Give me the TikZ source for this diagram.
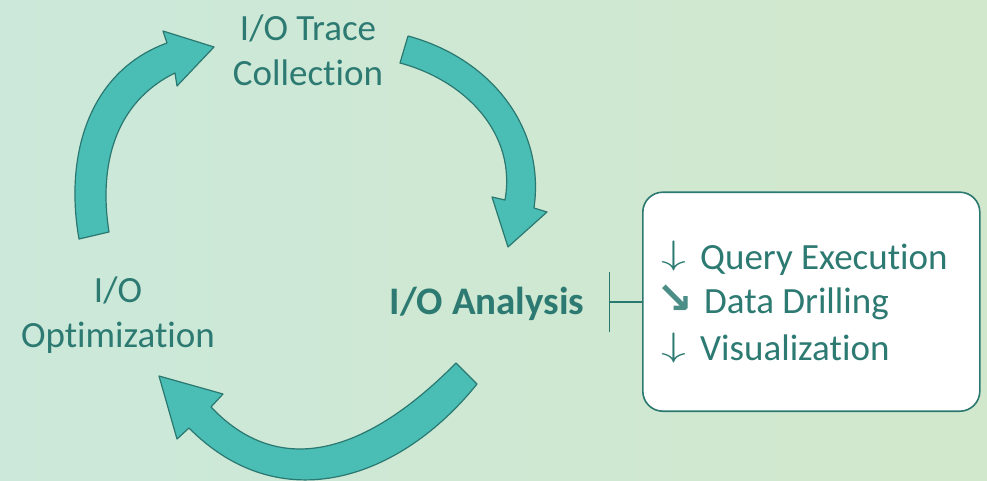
\documentclass[tikz,border=0pt]{standalone}
\usepackage{fontspec}
\setmainfont{Carlito}[Ligatures=NoCommon]
\newfontfamily\arrowfont{DejaVu Sans}
\definecolor{tealtext}{HTML}{2C7A72}
\definecolor{tealfill}{HTML}{4ABDB5}
\definecolor{tealline}{HTML}{2A7870}
\definecolor{bgleft}{HTML}{CBE8DA}
\definecolor{bgright}{HTML}{D2E8CC}
\newcommand{\downmark}{\makebox[39pt][l]{\fontsize{24.88}{30}\selectfont\raisebox{4.5pt}{\scalebox{2.0}[1.36]{$\downarrow$}}}}
\newcommand{\drillmark}{\makebox[48pt][l]{\arrowfont\bfseries\fontsize{44}{44}\selectfont\color{tealtext!85}↘}}

\begin{document}
\begin{tikzpicture}[x=1pt, y=1pt,
  every node/.style={text=tealtext, font=\fontsize{37}{45}\selectfont},
  stage/.style={align=center, inner sep=0pt},
  item/.style={anchor=west, inner sep=0pt},
  cyclearrow/.style={fill=tealfill, draw=tealline, line width=1.2pt, line join=round},
  toolbox/.style={draw=tealline, line width=1.6pt, fill=white, rounded corners=20pt,
    minimum width=337pt, minimum height=219pt, anchor=south west},
  bracket/.style={draw=tealline, line width=1.6pt}]

  % Background
  \shade[left color=bgleft, right color=bgright] (0,0) rectangle (987,480);
  \useasboundingbox (0,0) rectangle (987,480);

  % Stages of the cycle
  \node[stage] (trace) at (308,430) {I/O Trace\\Collection};
  \node[stage] (optim) at (118,165) {I/O\\Optimization};
  \node[stage, font=\fontsize{39}{45}\selectfont\bfseries] (analysis) at (487,176) {I/O Analysis};

  % Block arrows between the stages
  \draw[cyclearrow] (79,241) to[out=100,in=200] (167,437) -- (163,449) -- (214,433)
    -- (177,394) -- (175,407) to[out=206,in=99] (109,248) -- cycle;
  \draw[cyclearrow] (408,444) to[out=-15,in=82] (534,272) -- (547,268) -- (508,233)
    -- (492,283) -- (505,280) to[out=80,in=-15] (400,417) -- cycle;
  \draw[cyclearrow] (477,96) .. controls (400,0) and (280,-40) .. (189,52) -- (177,41)
    -- (159,104) -- (223,86) -- (211,73) .. controls (285,-5) and (375,35) .. (456,117) -- cycle;

  % Box with the analysis methods
  \node[toolbox] (tools) at (642,68) {};
  \node[item] (query) at (661,222) {\downmark Query Execution};
  \node[item] (drill) at (656,178) {\drillmark Data Drilling};
  \node[item] (visual) at (661,132) {\downmark Visualization};

  % Bracket from the analysis stage to the box
  \coordinate (brk) at ([xshift=25pt]analysis.east |- tools.west);
  \draw[bracket] ([yshift=30pt]brk) -- ([yshift=-30pt]brk);
  \draw[bracket] (brk) -- (tools.west);
\end{tikzpicture}
\end{document}
